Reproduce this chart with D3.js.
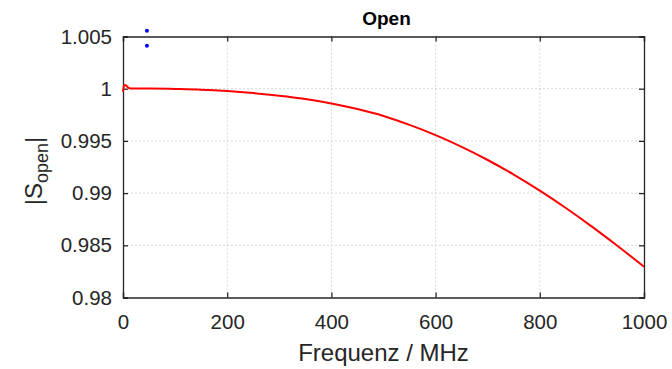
<!DOCTYPE html>
<html><head><meta charset="utf-8">
<script src="https://cdn.jsdelivr.net/npm/d3@7"></script>
<style>body{margin:0;background:#fff}svg{display:block}text{font-family:"Liberation Sans",Arial,Helvetica,sans-serif}</style>
</head><body>
<svg id="c" width="672" height="369"></svg>
<script>
const freq = [0,2,4,6,8,12,20,50,100,150,200,250,300,350,400,450,500,550,600,650,700,750,800,850,900,950,1000];
const sOpen = [0.9997,1.0003,1.00035,1.0003,1.0002,1.00005,1.00003,1.00002,0.99997,0.99990,0.99977,0.99958,0.99933,0.99901,0.99859,0.99805,0.99739,0.99653,0.99555,0.99443,0.99317,0.99177,0.99023,0.98857,0.98679,0.98491,0.98295];
const markerFreq = [46,46];
const markerVal = [1.00555,1.00412];
const xTicks = [0,200,400,600,800,1000];
const yTicks = [0.98,0.985,0.99,0.995,1,1.005];
const yTickLabels = ["0.98","0.985","0.99","0.995","1","1.005"];
const title = "Open";
const xLabel = "Frequenz / MHz";

const svg = d3.select("#c");
const L=123,R=644,T=36.5,B=297.5;
const x = d3.scaleLinear().domain([0,1000]).range([L,R]);
const y = d3.scaleLinear().domain([0.98,1.005]).range([B,T]);
const txt="#262626";

// grid
const g = svg.append("g");
g.selectAll(".gx").data(xTicks.slice(1,-1)).join("line")
  .attr("x1",d=>x(d)).attr("x2",d=>x(d)).attr("y1",T).attr("y2",B)
  .attr("stroke","#d6d8e0").attr("stroke-dasharray","2,2").attr("stroke-width",1);
g.selectAll(".gy").data(yTicks.slice(1,-1)).join("line")
  .attr("y1",d=>y(d)).attr("y2",d=>y(d)).attr("x1",L).attr("x2",R)
  .attr("stroke","#d6d8e0").attr("stroke-dasharray","2,2").attr("stroke-width",1);

// axes with inward ticks
const ax = svg.append("g").attr("transform",`translate(0,${B})`)
  .call(d3.axisBottom(x).tickValues(xTicks).tickSize(-5).tickPadding(17).tickFormat(d3.format("d")));
const ay = svg.append("g").attr("transform",`translate(${L},0)`)
  .call(d3.axisLeft(y).tickValues(yTicks).tickSize(-5).tickPadding(11).tickFormat((d,i)=>yTickLabels[i]));
const at = svg.append("g").attr("transform",`translate(0,${T})`)
  .call(d3.axisTop(x).tickValues(xTicks).tickSize(-5).tickFormat(""));
const ar = svg.append("g").attr("transform",`translate(${R},0)`)
  .call(d3.axisRight(y).tickValues(yTicks).tickSize(-5).tickFormat(""));
[ax,ay,at,ar].forEach(a=>{
  a.select(".domain").attr("stroke",txt).attr("stroke-width",1.3);
  a.selectAll(".tick line").attr("stroke",txt).attr("stroke-width",1.3);
  a.selectAll(".tick text").attr("fill",txt).style("font-size","20.5px");
});

// line
const line = d3.line().x((d,i)=>x(freq[i])).y(d=>y(d)).curve(d3.curveMonotoneX);
svg.append("path").datum(sOpen).attr("d",line)
  .attr("fill","none").attr("stroke","#ff0000").attr("stroke-width",2).attr("stroke-linejoin","round");

// blue markers
svg.selectAll(".m").data(markerVal).join("circle")
  .attr("cx",(d,i)=>x(markerFreq[i])).attr("cy",d=>y(d)).attr("r",2).attr("fill","#0000ff");

// title
svg.append("text").attr("x",(L+R)/2+3).attr("y",25).attr("text-anchor","middle")
  .style("font-size","19px").style("font-weight","bold").attr("fill","#000").text(title);
// x label
svg.append("text").attr("x",(L+R)/2).attr("y",361).attr("text-anchor","middle")
  .style("font-size","24px").attr("fill",txt).text(xLabel);
// y label
const yl = svg.append("text").attr("transform",`translate(42,171) rotate(-90)`).attr("text-anchor","middle")
  .style("font-size","24px").attr("fill",txt);
yl.append("tspan").text("|S");
yl.append("tspan").attr("dy","6").style("font-size","18px").text("open");
yl.append("tspan").attr("dy","-6").text("|");
</script>
</body></html>
